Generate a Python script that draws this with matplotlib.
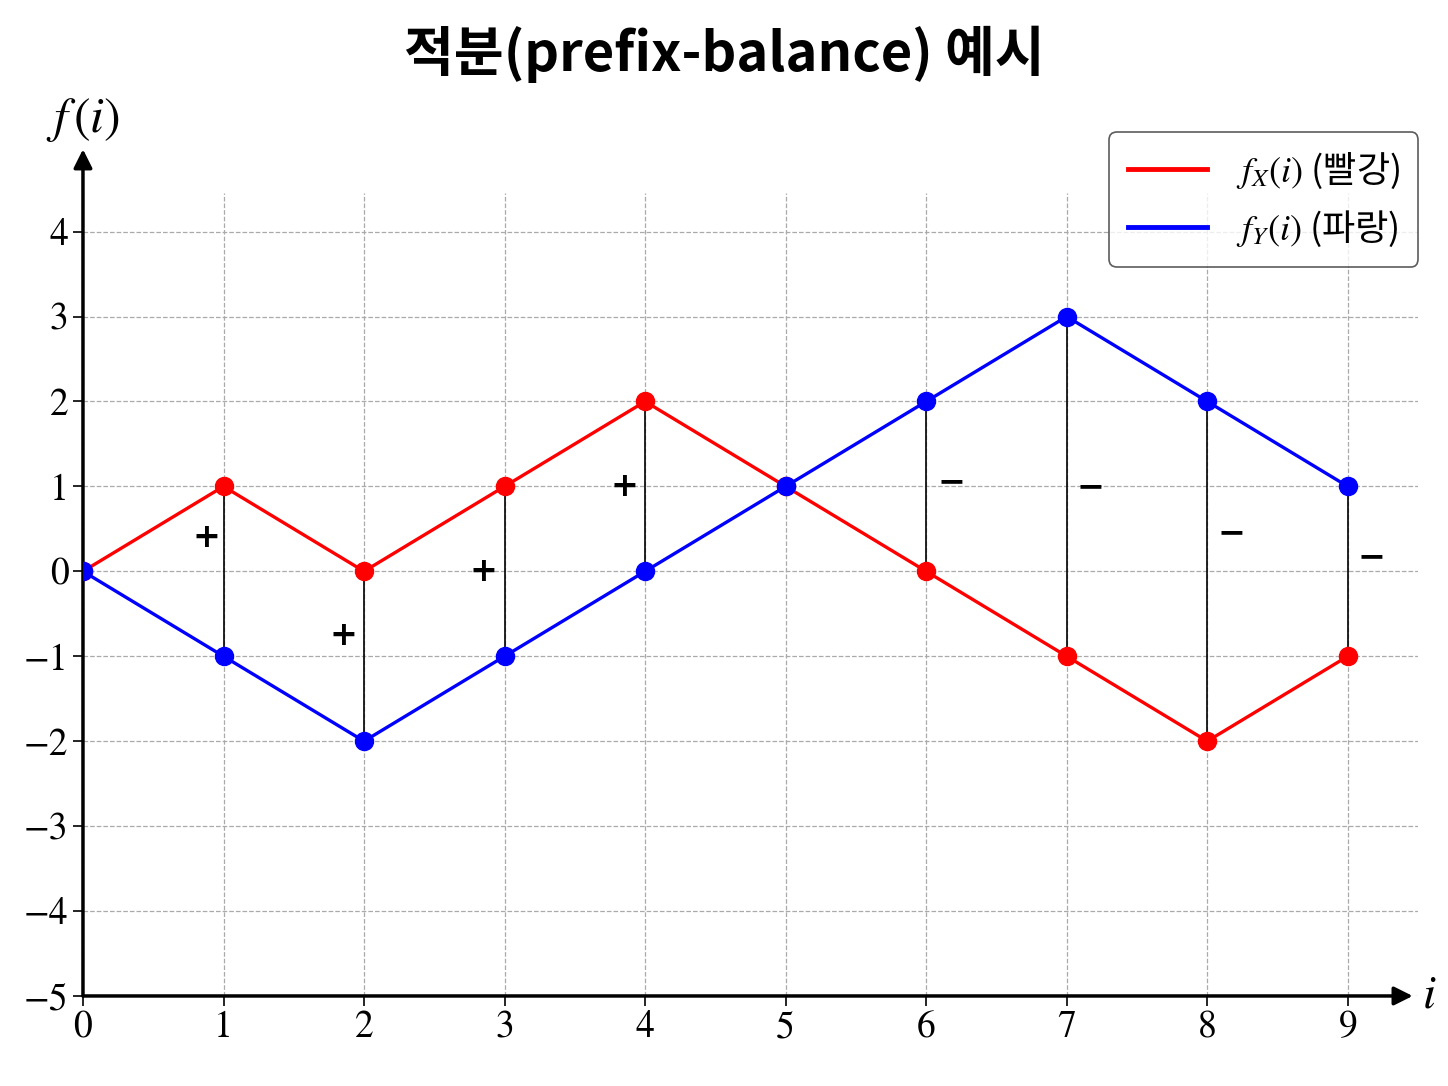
import numpy as np
import matplotlib
matplotlib.use("Agg")
import matplotlib.pyplot as plt

plt.rcParams['font.family'] = ['STIXGeneral', 'Noto Sans CJK KR', 'DejaVu Sans']
plt.rcParams['mathtext.fontset'] = 'stix'
plt.rcParams['axes.unicode_minus'] = True

# data
idx = [0, 1, 2, 3, 4, 5, 6, 7, 8, 9]
f_x = [0, 1, 0, 1, 2, 1, 0, -1, -2, -1]
f_y = [0, -1, -2, -1, 0, 1, 2, 3, 2, 1]
y_ticks = [-5, -4, -3, -2, -1, 0, 1, 2, 3, 4]

# sign labels (+ while f_X above f_Y, - after)
sign_text = ['+', '+', '+', '+', '\u2212', '\u2212', '\u2212', '\u2212']
sign_pos = [(0.88, 0.4), (1.85, -0.75), (2.85, 0.0), (3.85, 1.0),
            (6.18, 1.05), (7.17, 1.0), (8.17, 0.45), (9.17, 0.17)]

fig = plt.figure(figsize=(14.48, 10.86), dpi=100)
ax = fig.add_axes([0.0573, 0.0829, 0.922, 0.739])

x = np.array(idx)
fx = np.array(f_x)
fy = np.array(f_y)

# vertical connectors where the two curves differ
diff = fx != fy
ax.vlines(x[diff], fy[diff], fx[diff], color='black', lw=1.2, zorder=2)

ax.plot(x, fx, color='#ff0000', lw=2.4, marker='o', ms=13, zorder=3,
        label=r'$f_X(i)$ (빨강)')
ax.plot(x, fy, color='#0000ff', lw=2.4, marker='o', ms=13, zorder=4,
        label=r'$f_Y(i)$ (파랑)')

for s, (px, py) in zip(sign_text, sign_pos):
    ax.text(px, py, s, fontsize=24, fontweight='bold', family='DejaVu Sans',
            ha='center', va='center', zorder=5)

ax.set_xlim(0, 9.5)
ax.set_ylim(-5, 4.45)
ax.set_xticks(idx)
ax.set_yticks(y_ticks)
ax.tick_params(labelsize=27, length=7, width=1.2, direction='out')
ax.grid(True, ls='--', color='#aaaaaa', lw=0.9)

for side in ['top', 'right', 'left', 'bottom']:
    ax.spines[side].set_visible(False)

# axis arrows
ax.annotate('', xy=(0.996, 0), xytext=(0, 0), xycoords='axes fraction',
            arrowprops=dict(arrowstyle='-|>', lw=2.5, color='black',
                            mutation_scale=28, shrinkA=0, shrinkB=0),
            annotation_clip=False)
ax.annotate('', xy=(0, 1.055), xytext=(0, 0), xycoords='axes fraction',
            arrowprops=dict(arrowstyle='-|>', lw=2.5, color='black',
                            mutation_scale=28, shrinkA=0, shrinkB=0),
            annotation_clip=False)
ax.text(1.003, 0.0, r'$i$', transform=ax.transAxes, fontsize=34,
        ha='left', va='center')
ax.text(0.0, 1.091, r'$f\,(i)$', transform=ax.transAxes, fontsize=36,
        ha='center', va='center')

leg = ax.legend(loc='upper right', bbox_to_anchor=(1.0, 1.076), fontsize=27,
                prop={'family': 'Noto Sans CJK KR', 'size': 26},
                frameon=True, fancybox=True, edgecolor='#333333',
                handlelength=2.2, borderpad=0.5, labelspacing=0.5,
                borderaxespad=0)
leg.get_frame().set_linewidth(1.2)
for line in leg.get_lines():
    line.set_linewidth(3.5)
    line.set_marker('')

fig.text(0.5, 0.95, '적분(prefix-balance) 예시', ha='center', va='center',
         fontsize=39, fontweight='bold', family=['Noto Sans CJK KR'])

fig.savefig('out.png', dpi=100, facecolor='white')
